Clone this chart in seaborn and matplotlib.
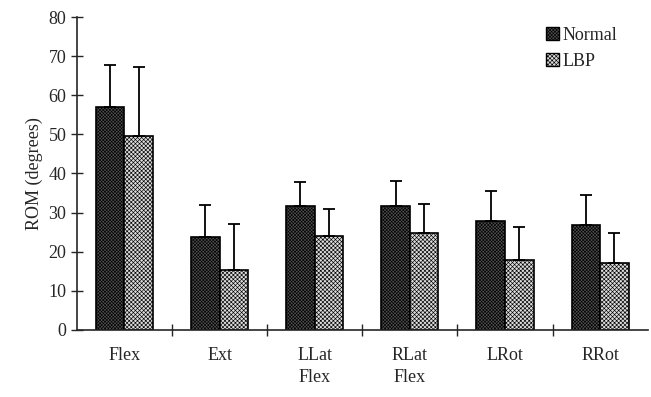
import pandas as pd
import numpy as np
import seaborn as sns
import matplotlib.pyplot as plt
from matplotlib.ticker import FixedLocator
from matplotlib.patches import Patch

# data
movements = ["Flex", "Ext", "LLat\nFlex", "RLat\nFlex", "LRot", "RRot"]
normal_mean = [57, 23.7, 31.8, 31.6, 27.8, 26.8]
normal_sd = [10.8, 8.2, 6.0, 6.6, 7.6, 7.6]
lbp_mean = [49.5, 15.2, 24.0, 24.9, 17.8, 17.0]
lbp_sd = [17.8, 12.0, 6.9, 7.4, 8.4, 7.8]
groups = ["Normal", "LBP"]

df = pd.DataFrame({
    "movement": movements * 2,
    "group": [groups[0]] * 6 + [groups[1]] * 6,
    "rom": normal_mean + lbp_mean,
})

sns.set_style("ticks")
plt.rcParams["font.family"] = ["Liberation Serif", "DejaVu Serif"]
plt.rcParams["hatch.linewidth"] = 0.45

colors = {"Normal": "#505050", "LBP": "#dcdcdc"}
hatches = {"Normal": "xxxxxxxxxx", "LBP": "xxxxxxxx"}

fig = plt.figure(figsize=(6.51, 3.97), dpi=100)
ax = fig.add_axes([0.118, 0.169, 0.877, 0.788])

sns.barplot(data=df, x="movement", y="rom", hue="group", order=movements,
            hue_order=groups, palette=[colors[g] for g in groups], width=0.6,
            edgecolor="black", linewidth=1.2, errorbar=None, ax=ax,
            legend=False)

bars = ax.patches
n = len(movements)
sds = {"Normal": normal_sd, "LBP": lbp_sd}
for gi, g in enumerate(groups):
    for i in range(n):
        p = bars[gi * n + i]
        p.set_hatch(hatches[g])
        xc = p.get_x() + p.get_width() / 2
        h = p.get_height()
        ax.errorbar(xc, h, yerr=[[0], [sds[g][i]]], fmt="none",
                    ecolor="black", elinewidth=1.3, capsize=4, capthick=1.3)

ax.set_ylim(0, 80)
ax.set_yticks(np.arange(0, 81, 10))
ax.set_xlim(-0.5, 5.5)
ax.tick_params(axis="y", direction="inout", length=8, width=1, labelsize=13)
ax.tick_params(axis="x", which="major", length=0, labelsize=13, pad=12)
ax.xaxis.set_minor_locator(FixedLocator([0.5, 1.5, 2.5, 3.5, 4.5]))
ax.tick_params(axis="x", which="minor", direction="inout", length=8, width=1)
ax.set_xlabel("")
ax.set_ylabel("ROM (degrees)", fontsize=13)
for lab in ax.get_xticklabels():
    lab.set_linespacing(1.4)
sns.despine(ax=ax)
ax.spines["left"].set_linewidth(1.2)
ax.spines["bottom"].set_linewidth(1.2)

handles = [Patch(facecolor=colors[g], edgecolor="black", hatch=hatches[g], label=g)
           for g in groups]
ax.legend(handles=handles, loc="upper right", bbox_to_anchor=(0.975, 1.02),
          frameon=False, fontsize=13, handlelength=0.7, handleheight=0.7,
          handletextpad=0.2, labelspacing=0.5)

fig.savefig("out.png", dpi=100)
